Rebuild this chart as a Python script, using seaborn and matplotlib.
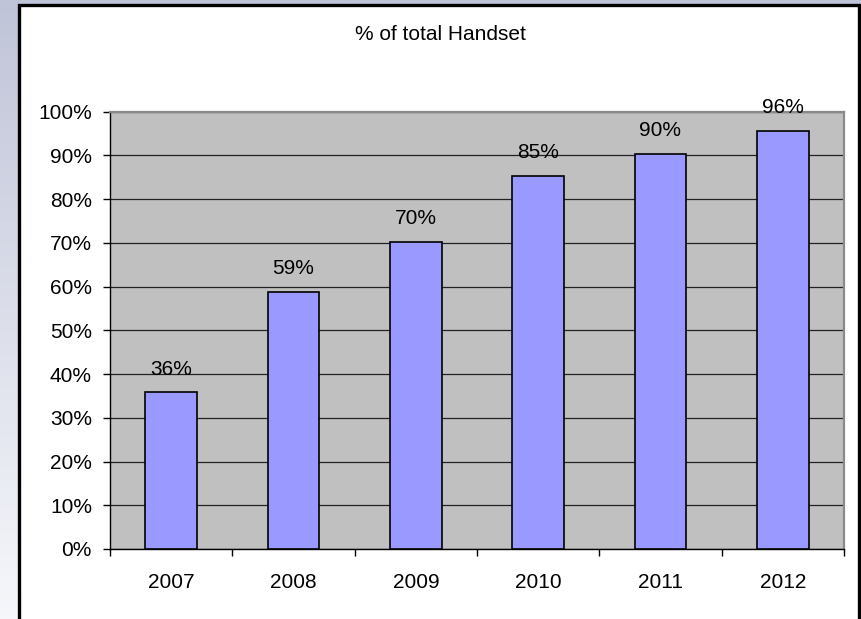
import numpy as np
import pandas as pd
import matplotlib
matplotlib.use("Agg")
import matplotlib.pyplot as plt
import seaborn as sns
from matplotlib.patches import Rectangle
from matplotlib.ticker import FixedLocator, PercentFormatter

years = ["2007", "2008", "2009", "2010", "2011", "2012"]
share = [0.358, 0.587, 0.702, 0.853, 0.904, 0.956]
bar_text = ["36%", "59%", "70%", "85%", "90%", "96%"]
title = "% of total Handset"

sns.set_theme(style="white")
plt.rcParams["font.family"] = ["Liberation Sans", "DejaVu Sans"]

W, H = 862, 619
fig = plt.figure(figsize=(W / 100, H / 100), dpi=100)

# background gradient
bg = fig.add_axes([0, 0, 1, 1], zorder=-10)
top_c = np.array([192, 196, 216]) / 255
bot_c = np.array([246, 247, 251]) / 255
t = np.linspace(0, 1, 256)[:, None]
grad = top_c[None, :] * (1 - t) + bot_c[None, :] * t
img = np.repeat(grad[:, None, :], 2, axis=1)
bg.imshow(img, aspect="auto", extent=[0, 1, 0, 1], origin="upper")
bg.set_xlim(0, 1)
bg.set_ylim(0, 1)
bg.axis("off")

# chart box
box = Rectangle((19 / W, -0.05), (859 - 19) / W, 1.05 - 5 / H,
                transform=fig.transFigure, facecolor="white",
                edgecolor="black", linewidth=2.4, zorder=-5)
fig.patches.append(box)

ax = fig.add_axes([110 / W, 1 - 549 / H, (844 - 110) / W, (549 - 111.7) / H])
df = pd.DataFrame({"year": years, "share": share})
sns.barplot(data=df, x="year", y="share", color="#9999FF", saturation=1,
            edgecolor="black", linewidth=1.2, width=0.42, ax=ax, zorder=3)
ax.set_facecolor("#C0C0C0")
ax.set_xlim(-0.5, 5.5)
ax.set_ylim(0, 1)
ax.set_xlabel("")
ax.set_ylabel("")

ax.yaxis.set_major_locator(FixedLocator(np.arange(0, 1.01, 0.1)))
ax.yaxis.set_major_formatter(PercentFormatter(1.0, decimals=0))
ax.grid(axis="y", color="#222222", linewidth=0.9, zorder=1)
ax.set_axisbelow(True)

ax.xaxis.set_minor_locator(FixedLocator(np.arange(-0.5, 5.6, 1)))
ax.tick_params(axis="x", which="major", length=0, pad=17, labelsize=15,
               colors="black")
ax.tick_params(axis="x", which="minor", length=5, width=1, direction="out",
               bottom=True, color="black")
ax.tick_params(axis="y", which="major", length=5, width=1, direction="out",
               left=True, pad=8, labelsize=15, colors="black")

for side in ["left", "bottom"]:
    ax.spines[side].set_color("black")
    ax.spines[side].set_linewidth(1.0)
    ax.spines[side].set_visible(True)
for side in ["top", "right"]:
    ax.spines[side].set_color("#8a8a8a")
    ax.spines[side].set_linewidth(1.6)
    ax.spines[side].set_visible(True)

ax.bar_label(ax.containers[0], labels=bar_text, padding=10, fontsize=15,
             color="black")

fig.text(440 / W, 1 - 35 / H, title, ha="center", va="center",
         fontsize=15, color="black")

fig.savefig("out.png", dpi=100)
